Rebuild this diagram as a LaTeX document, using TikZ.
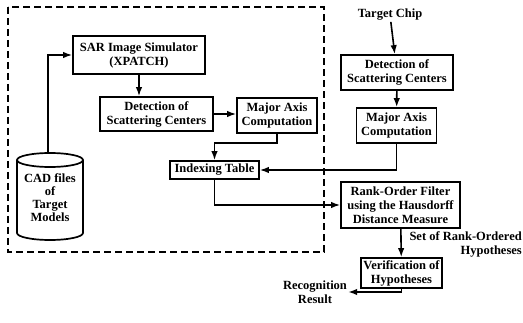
\documentclass[tikz,border=0pt]{standalone}
\usepackage{fontspec}
\setmainfont{Liberation Serif}
\usetikzlibrary{arrows.meta}
\begin{document}
\begin{tikzpicture}[x=1pt,y=-1pt,
    font=\fontsize{12.5}{14}\selectfont\bfseries,
    box/.style={draw, line width=1.7pt, align=center, inner sep=1pt},
    lbl/.style={align=center, inner sep=1pt},
    arr/.style={line width=1.6pt, -{Latex[length=9pt,width=6.5pt]}}]
    \useasboundingbox (0,0) rectangle (523,323);
    \draw[line width=1.5pt, dash pattern=on 7pt off 4pt] (8,7) rectangle (324,252);
    \draw[line width=1.7pt] (17,160) -- (17,233) arc[start angle=180,end angle=0,x radius=33,y radius=7] -- (83,160);
    \draw[line width=1.7pt] (50,160) ellipse[x radius=33,y radius=7];
    \coordinate (cadtop) at (48,153);
    \node[lbl, font=\fontsize{12.5}{13}\selectfont\bfseries] (cad) at (50,198) {CAD files\\of\\Target\\Models};
    \node[box, minimum width=132pt, minimum height=38pt] (sar) at (139,55) {SAR Image Simulator\\(XPATCH)};
    \node[box, minimum width=113pt, minimum height=34pt] (det1) at (156.5,114) {Detection of\\Scattering Centers};
    \node[box, minimum width=80pt, minimum height=35pt] (maj1) at (277,115.5) {Major Axis\\Computation};
    \node[box, minimum width=89pt, minimum height=18pt] (idx) at (214.5,170) {Indexing Table};
    \node[lbl] (chip) at (390,15) {Target Chip};
    \node[box, minimum width=112pt, minimum height=35pt] (det2) at (397,72.5) {Detection of\\Scattering Centers};
    \node[box, minimum width=80pt, minimum height=35pt] (maj2) at (396.5,125.5) {Major Axis\\Computation};
    \node[box, minimum width=119pt, minimum height=46pt] (rank) at (400.5,205) {Rank-Order Filter\\using the Hausdorff\\Distance Measure};
    \node[box, minimum width=81pt, minimum height=30pt] (ver) at (401.5,273) {Verification of\\Hypotheses};
    \node[lbl, align=right, anchor=north east] (set) at (523,231) {Set of Rank-Ordered\\Hypotheses};
    \node[lbl] (res) at (315,292) {Recognition\\Result};
    \draw[arr] (cadtop) |- (sar.west);
    \draw[arr] (sar.south) -- (sar.south |- det1.north);
    \draw[arr] (det1.east) -- (det1.east -| maj1.west);
    \draw[arr] (maj1.south) -- ++(0,9) -| (idx.north);
    \draw[arr] (chip) -- (det2);
    \draw[arr] (det2) -- (maj2);
    \draw[arr] (maj2.south) |- (idx.east);
    \draw[arr] (idx.south) |- (rank.west);
    \draw[arr] (rank) -- (ver);
    \draw[arr] (ver.south) |- (res.east);
\end{tikzpicture}
\end{document}
